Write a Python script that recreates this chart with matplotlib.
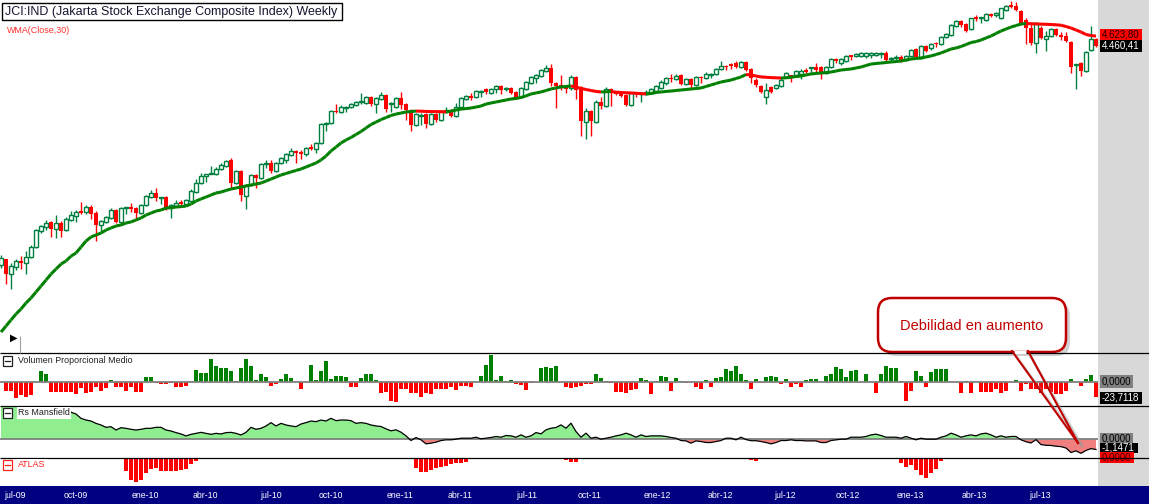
import numpy as np
import matplotlib
matplotlib.use("Agg")
import matplotlib.pyplot as plt
from matplotlib.patches import Rectangle, FancyBboxPatch
from matplotlib.collections import LineCollection
from matplotlib.transforms import blended_transform_factory

plt.rcParams['font.family'] = ['Liberation Sans', 'DejaVu Sans']

# weekly candles, JCI jul-09 .. sep-13
opens = [2014, 2058, 1950, 2000, 2044, 2029, 2073, 2150, 2279, 2312,
         2355, 2295, 2346, 2287, 2372, 2406, 2450, 2441, 2486, 2432,
         2329, 2355, 2389, 2459, 2355, 2477, 2486, 2477, 2432, 2504,
         2578, 2616, 2569, 2578, 2477, 2495, 2532, 2513, 2541, 2625,
         2712, 2783, 2803, 2803, 2854, 2886, 2949, 2712, 2834, 2588,
         2693, 2793, 2762, 2906, 2917, 2834, 2917, 2949, 3003, 3047,
         3036, 3014, 3091, 3069, 3137, 3360, 3372, 3522, 3510, 3561,
         3574, 3600, 3640, 3627, 3707, 3613, 3680, 3734, 3613, 3574,
         3693, 3613, 3535, 3348, 3459, 3484, 3360, 3484, 3409, 3510,
         3535, 3459, 3574, 3680, 3721, 3707, 3775, 3816, 3761, 3816,
         3858, 3816, 3830, 3775, 3707, 3816, 3900, 3971, 4000, 4073,
         4118, 3900, 3872, 3858, 3830, 3986, 3844, 3384, 3522, 3384,
         3640, 3587, 3816, 3775, 3761, 3734, 3600, 3775, 3748, 3748,
         3761, 3788, 3830, 3900, 3971, 3957, 4015, 3886, 3957, 3872,
         3986, 3971, 4015, 4030, 4103, 4148, 4178, 4193, 4133, 4209,
         4103, 3942, 3858, 3707, 3844, 3830, 3858, 3986, 4015, 4015,
         4030, 4088, 4118, 4133, 4133, 4044, 4133, 4255, 4193, 4224,
         4317, 4302, 4302, 4302, 4317, 4317, 4333, 4349, 4255, 4271,
         4286, 4239, 4302, 4412, 4271, 4460, 4428, 4509, 4492, 4608,
         4642, 4795, 4883, 4831, 4744, 4955, 4937, 4901, 5010, 4992,
         4937, 5083, 5176, 5157, 5065, 4901, 4761, 4509, 4761, 4575,
         4625, 4744, 4642, 4625, 4525, 4163, 4193, 4073, 4396, 4575]
highs = [2088, 2058, 2029, 2058, 2080, 2119, 2166, 2295, 2329, 2372,
         2363, 2415, 2363, 2398, 2450, 2459, 2532, 2504, 2504, 2450,
         2372, 2406, 2477, 2468, 2486, 2490, 2523, 2486, 2513, 2597,
         2644, 2663, 2580, 2588, 2513, 2550, 2550, 2560, 2654, 2752,
         2813, 2805, 2886, 2875, 2917, 2949, 2970, 2844, 2844, 2703,
         2803, 2803, 2917, 2949, 2949, 2928, 2981, 3025, 3080, 3058,
         3058, 3091, 3125, 3148, 3372, 3384, 3535, 3613, 3600, 3587,
         3627, 3653, 3761, 3721, 3721, 3707, 3775, 3748, 3640, 3707,
         3775, 3627, 3548, 3497, 3497, 3497, 3497, 3497, 3535, 3574,
         3548, 3627, 3707, 3734, 3761, 3802, 3802, 3830, 3830, 3872,
         3872, 3844, 3844, 3788, 3844, 3928, 4000, 4030, 4103, 4163,
         4178, 3914, 4015, 3872, 4015, 4000, 3858, 3561, 3535, 3666,
         3707, 3844, 3830, 3788, 3761, 3748, 3775, 3775, 3775, 3802,
         3830, 3872, 3942, 3986, 4030, 4030, 4030, 3971, 3971, 4000,
         4000, 4058, 4044, 4118, 4224, 4163, 4193, 4224, 4224, 4224,
         4118, 3971, 3872, 3900, 3858, 3886, 3971, 4058, 4015, 4088,
         4103, 4118, 4140, 4193, 4148, 4148, 4271, 4271, 4271, 4317,
         4317, 4349, 4364, 4364, 4364, 4364, 4364, 4380, 4286, 4317,
         4317, 4317, 4412, 4428, 4476, 4476, 4509, 4525, 4625, 4676,
         4831, 4901, 4901, 4848, 4937, 4992, 4960, 5028, 5028, 5046,
         5125, 5176, 5251, 5233, 5083, 4937, 4848, 4866, 4795, 4710,
         4761, 4761, 4693, 4693, 4542, 4180, 4209, 4380, 4795, 4592]
lows = [1992, 1880, 1846, 1978, 1985, 1950, 2066, 2142, 2262, 2287,
        2230, 2222, 2230, 2279, 2363, 2355, 2424, 2424, 2381, 2197,
        2271, 2346, 2381, 2346, 2346, 2424, 2441, 2372, 2424, 2495,
        2569, 2541, 2513, 2459, 2389, 2486, 2486, 2504, 2532, 2616,
        2703, 2722, 2800, 2793, 2844, 2875, 2664, 2703, 2541, 2468,
        2683, 2664, 2752, 2865, 2813, 2824, 2906, 2917, 2992, 2917,
        2960, 2992, 3058, 3025, 3125, 3276, 3360, 3497, 3497, 3510,
        3561, 3587, 3613, 3613, 3587, 3497, 3666, 3510, 3510, 3561,
        3548, 3409, 3276, 3336, 3348, 3312, 3348, 3384, 3397, 3497,
        3447, 3447, 3548, 3666, 3666, 3693, 3707, 3748, 3748, 3761,
        3748, 3788, 3748, 3680, 3693, 3802, 3886, 3900, 3986, 4058,
        3858, 3561, 3802, 3761, 3802, 3680, 3217, 3183, 3217, 3372,
        3548, 3574, 3587, 3734, 3707, 3587, 3587, 3707, 3640, 3734,
        3748, 3775, 3816, 3872, 3914, 3942, 3872, 3872, 3816, 3858,
        3900, 3957, 3971, 4015, 4088, 4088, 4103, 4118, 4118, 4073,
        3900, 3844, 3761, 3613, 3761, 3816, 3844, 3971, 3914, 4000,
        3957, 4030, 4044, 4058, 3957, 4030, 4118, 4193, 4163, 4209,
        4239, 4286, 4286, 4271, 4271, 4302, 4271, 4209, 4224, 4239,
        4209, 4224, 4286, 4271, 4255, 4364, 4396, 4444, 4476, 4592,
        4625, 4778, 4778, 4693, 4727, 4883, 4848, 4883, 4955, 4955,
        4919, 5065, 5120, 5065, 4831, 4492, 4476, 4349, 4575, 4380,
        4608, 4625, 4558, 4525, 4044, 3816, 4000, 4058, 4380, 4444]
closes = [2066, 1950, 2007, 2044, 2029, 2073, 2150, 2287, 2321, 2346,
          2295, 2346, 2279, 2381, 2415, 2441, 2432, 2486, 2424, 2329,
          2363, 2398, 2459, 2355, 2477, 2486, 2468, 2432, 2504, 2588,
          2616, 2569, 2578, 2477, 2504, 2523, 2513, 2550, 2635, 2712,
          2783, 2803, 2813, 2854, 2896, 2938, 2712, 2834, 2597, 2693,
          2793, 2762, 2906, 2917, 2834, 2917, 2970, 3014, 3047, 3025,
          3014, 3080, 3069, 3137, 3360, 3372, 3522, 3510, 3574, 3574,
          3613, 3640, 3653, 3707, 3613, 3693, 3734, 3548, 3627, 3693,
          3600, 3535, 3348, 3484, 3472, 3360, 3484, 3409, 3522, 3535,
          3459, 3574, 3693, 3721, 3693, 3788, 3788, 3775, 3816, 3858,
          3802, 3830, 3761, 3693, 3830, 3914, 3986, 4015, 4088, 4118,
          3900, 3858, 3830, 3816, 3986, 3802, 3397, 3522, 3397, 3640,
          3587, 3816, 3761, 3748, 3721, 3600, 3761, 3748, 3761, 3775,
          3816, 3858, 3914, 3971, 3957, 4000, 3886, 3957, 3872, 3986,
          3971, 4030, 4030, 4103, 4148, 4133, 4148, 4133, 4209, 4088,
          3971, 3872, 3775, 3802, 3775, 3872, 3942, 4044, 3971, 4073,
          4073, 4058, 4133, 4088, 4030, 4133, 4255, 4224, 4255, 4302,
          4286, 4333, 4349, 4349, 4349, 4349, 4349, 4239, 4271, 4286,
          4239, 4302, 4396, 4286, 4460, 4380, 4492, 4492, 4608, 4659,
          4813, 4883, 4813, 4710, 4937, 4919, 4955, 5010, 4974, 5028,
          5120, 5157, 5139, 5083, 4848, 4761, 4509, 4848, 4592, 4625,
          4744, 4642, 4608, 4542, 4133, 4178, 4073, 4364, 4575, 4460.41]
wma30 = [1579, 1614, 1650, 1686, 1717, 1755, 1787, 1826, 1866, 1907,
         1949, 1985, 2021, 2044, 2080, 2104, 2150, 2197, 2230, 2246,
         2262, 2287, 2304, 2321, 2329, 2346, 2355, 2372, 2389, 2415,
         2432, 2450, 2459, 2477, 2481, 2486, 2490, 2495, 2513, 2541,
         2560, 2578, 2597, 2616, 2625, 2640, 2654, 2664, 2673, 2683,
         2693, 2703, 2712, 2732, 2752, 2772, 2793, 2808, 2824, 2839,
         2854, 2875, 2896, 2917, 2949, 2992, 3047, 3091, 3137, 3171,
         3200, 3235, 3270, 3312, 3354, 3384, 3415, 3440, 3466, 3484,
         3497, 3510, 3516, 3522, 3520, 3517, 3516, 3515, 3514, 3512,
         3522, 3535, 3548, 3554, 3561, 3574, 3587, 3613, 3627, 3640,
         3653, 3666, 3680, 3687, 3700, 3721, 3748, 3761, 3775, 3795,
         3816, 3830, 3844, 3851, 3858, 3844, 3823, 3809, 3795, 3782,
         3775, 3778, 3781, 3772, 3768, 3764, 3761, 3757, 3753, 3748,
         3754, 3768, 3775, 3782, 3788, 3795, 3802, 3809, 3816, 3823,
         3830, 3851, 3872, 3893, 3914, 3928, 3942, 3964, 3986, 4022,
         4015, 4000, 3986, 3982, 3977, 3974, 3971, 3974, 3982, 3993,
         4000, 4015, 4030, 4037, 4044, 4051, 4058, 4073, 4088, 4096,
         4103, 4118, 4133, 4155, 4178, 4186, 4193, 4201, 4209, 4216,
         4224, 4239, 4255, 4263, 4271, 4286, 4302, 4325, 4349, 4380,
         4412, 4428, 4452, 4484, 4517, 4533, 4558, 4592, 4625, 4668,
         4710, 4744, 4778, 4804, 4831, 4840, 4836, 4833, 4829, 4826,
         4822, 4817, 4810, 4787, 4761, 4727, 4693, 4650, 4633, 4623.80]

vol_prop = [0, -13.2, -13.2, -25.3, -20.0, -23.7, -20.0, 0, 17.9, 13.2,
            -15.8, -15.8, -15.8, -15.8, -15.8, -18.4, -9.5, -17.4, -14.8, -6.9,
            -13.2, -9.5, 3.7, -7.9, -6.9, -13.2, -6.9, -15.8, -15.8, 9.0,
            9.0, -1.6, -2.6, -2.6, -1.6, -7.9, -7.9, -5.3, 2.1, 19.5,
            14.2, 14.2, 36.9, 25.8, 22.1, 22.1, 17.9, 2.1, 22.1, 36.9,
            26.4, 3.7, 12.6, 9.0, -5.3, -2.6, 5.3, 12.6, 6.3, 0,
            -10.5, 0, 27.4, 3.7, 17.9, 33.7, 5.3, 10.0, 10.0, 7.9,
            -6.9, -6.9, 6.3, 13.2, 13.2, 3.7, -17.4, -14.8, -29.0, -30.6,
            -10.5, -10.5, -17.4, -16.3, -22.7, -17.4, -19.0, -10.5, -10.5, -10.5,
            -6.9, -12.1, -5.3, -5.3, -6.9, 0, 10.0, 27.4, 43.2, 3.7,
            10.0, 2.1, 3.7, -2.6, -4.2, -12.1, -1.6, 0, 23.2, 24.8,
            23.2, 26.4, 0, -6.9, -8.4, -6.9, -5.3, -2.6, -2.6, 13.2,
            7.4, 2.1, -1.6, -14.8, -14.8, -16.3, -12.1, -11.1, 6.3, 3.7,
            -19.0, 2.1, 10.0, 9.0, -13.2, 7.4, 2.1, -1.6, 0, -6.9,
            -11.1, 3.7, -6.9, 7.4, 9.0, 21.1, 17.9, 26.4, 13.2, 3.7,
            -11.1, 4.7, -1.6, 9.0, 10.0, 9.0, -3.2, 5.3, -6.9, -3.2,
            -6.9, 3.7, 5.3, 5.3, 0, 10.5, 13.2, 24.8, 21.1, 9.0,
            17.9, 19.5, 0, 13.2, 0, -16.3, 13.2, 26.4, 23.2, 23.2,
            2.1, -29.0, -13.2, 17.9, 10.5, -6.9, 15.8, 21.1, 21.1, 21.1,
            0, 0, -16.3, 2.1, -16.3, 0, -14.8, -14.8, -14.8, -11.1,
            -17.4, -13.2, 0, 3.7, -13.2, -3.2, -11.1, -11.1, -17.4, -11.1,
            -14.8, -18.4, -18.4, -13.2, 5.3, 0, -5.3, 4.7, 11.6, -23.7118]

rs_mansfield = [3.9, 3.9, 3.9, 3.9, 3.9, 3.9, 3.9, 3.9, 3.9, 3.9,
                3.9, 3.9, 3.9, 3.9, 3.0, 2.8, 2.32, 2.13, 2.02, 1.76,
                1.58, 1.32, 1.39, 1.02, 1.28, 1.21, 1.10, 1.02, 1.10, 1.21,
                1.21, 1.32, 1.32, 1.02, 0.91, 0.73, 0.58, 0.36, 0.54, 0.65,
                0.76, 0.65, 0.54, 0.65, 0.58, 0.73, 0.76, 0.65, 0.47, 0.76,
                1.32, 1.10, 1.21, 1.47, 1.84, 1.47, 1.76, 1.58, 1.47, 1.39,
                1.69, 1.84, 2.02, 1.95, 2.13, 2.02, 2.32, 2.06, 2.13, 2.13,
                2.06, 1.76, 1.84, 1.76, 1.58, 1.47, 1.41, 1.15, 0.93, 1.04,
                0.78, 0.37, -0.15, 0.19, -0.07, -0.52, -0.44, -0.33, -0.15, -0.07,
                -0.07, 0.0, 0.11, 0.11, 0.11, 0.22, 0.04, 0.11, 0.19, 0.30,
                0.22, 0.41, 0.37, 0.22, 0.48, 0.22, 0.37, 0.74, 0.59, 1.04,
                1.22, 1.30, 1.59, 1.22, 1.78, 0.85, 0.22, 0.67, 0.11, 0.22,
                0.0, 0.11, 0.22, 0.37, 0.48, 0.67, 0.48, 0.22, 0.48, 0.30,
                0.37, 0.37, 0.37, 0.30, 0.19, 0.11, -0.15, -0.19, -0.44, -0.19,
                -0.26, -0.37, -0.37, -0.26, -0.15, 0.11, 0.11, -0.07, 0.22, -0.04,
                -0.17, -0.17, -0.26, -0.37, -0.52, -0.37, -0.15, -0.15, -0.07, -0.15,
                -0.15, -0.19, -0.19, -0.19, -0.37, -0.37, -0.15, -0.07, 0.0, 0.0,
                0.22, 0.22, 0.22, 0.30, 0.48, 0.56, 0.41, 0.22, 0.22, 0.22,
                0.11, 0.30, 0.11, -0.07, 0.11, 0.0, 0.0, 0.0, 0.22, 0.37,
                0.67, 0.48, 0.22, 0.37, 0.48, 0.37, 0.59, 0.67, 0.48, 0.22,
                0.37, 0.22, 0.30, 0.30, -0.07, -0.28, -0.42, -0.05, -0.60, -0.68,
                -0.70, -0.78, -0.83, -0.98, -1.48, -1.30, -1.57, -1.25, -1.05, -1.1471]

atlas_week = [25, 26, 27, 28, 29, 30, 31, 32, 33, 34, 35, 36, 37, 38, 39,
              83, 84, 85, 86, 87, 88, 89, 90, 91, 92, 93, 94,
              112, 113, 114, 115, 140, 150, 151,
              179, 180, 181, 182, 183, 184, 185, 186, 187, 188]
atlas_val = [-13.2, -22.5, -24.8, -22.5, -15.8, -11.8, -10.8, -13.2, -13.5, -13.5, -13.2, -12.5, -11.8, -6.5, -3.2,
             -10.2, -14.2, -14.2, -12.5, -10.8, -9.2, -8.2, -6.8, -5.8, -5.8, -4.2, -1.5,
             -0.8, -2.5, -4.2, -4.2, -0.8, -2.5, -3.2,
             -1.8, -5.8, -9.8, -7.5, -12.5, -17.5, -20.8, -15.2, -11.8, -3.2]

date_labels = ['jul-09', 'oct-09', 'ene-10', 'abr-10', 'jul-10', 'oct-10', 'ene-11', 'abr-11', 'jul-11',
               'oct-11', 'ene-12', 'abr-12', 'jul-12', 'oct-12', 'ene-13', 'abr-13', 'jul-13']
date_week = [2.8, 14.9, 28.8, 40.8, 53.9, 66.0, 79.8, 91.8, 105.2,
             117.8, 131.2, 143.8, 156.8, 169.4, 181.8, 194.7, 207.7]

GREEN = '#008040'
LGREEN = '#008000'
RED = '#ff0000'

W, H = 1149, 504
fig = plt.figure(figsize=(W / 100, H / 100), dpi=100)
fig.patch.set_facecolor('white')


def rect(x0, y0, x1, y1):
    return [x0 / W, 1 - y1 / H, (x1 - x0) / W, (y1 - y0) / H]


XL = (-0.2, 219.4)
o = np.array(opens, float)
hi = np.array(highs, float)
lo = np.array(lows, float)
c = np.array(closes, float)
x = np.arange(len(c))
up = c >= o

# price panel
ax = fig.add_axes(rect(0, 0, 1098, 353))
ax.set_yscale('log')
ax.set_xlim(*XL)
ax.set_ylim(1463.5, 5271)
ax.axis('off')
ax.vlines(x[up], lo[up], hi[up], color=GREEN, lw=1, zorder=2)
ax.vlines(x[~up], lo[~up], hi[~up], color=RED, lw=1, zorder=2)
ax.bar(x[up], c[up] - o[up], bottom=o[up], width=0.62, facecolor='white',
       edgecolor=GREEN, lw=1, zorder=3)
ax.bar(x[~up], o[~up] - c[~up], bottom=c[~up], width=0.75, color=RED, lw=0, zorder=3)

w = np.array(wma30, float)
segs = [[(i, w[i]), (i + 1, w[i + 1])] for i in range(len(w) - 1)]
cols = [LGREEN if w[i + 1] >= w[i] else RED for i in range(len(w) - 1)]
ax.add_collection(LineCollection(segs, colors=cols, linewidths=2.2, zorder=4,
                                 capstyle='butt'))

# volumen proporcional medio
av = fig.add_axes(rect(0, 354, 1098, 405))
av.set_xlim(*XL)
av.set_ylim(-35.9, 44.7)
av.axis('off')
v = np.array(vol_prop)
av.bar(x, v, width=0.75, color=np.where(v >= 0, LGREEN, RED), lw=0)
av.axhline(0, color='#808080', lw=1.3)

# rs mansfield
ar = fig.add_axes(rect(0, 406, 1098, 457))
ar.set_xlim(*XL)
ar.set_ylim(-1.98, 3.69)
ar.axis('off')
rs = np.array(rs_mansfield)
ar.fill_between(x, 0, rs, where=rs >= 0, interpolate=True, color='#90ee90', lw=0)
ar.fill_between(x, 0, rs, where=rs < 0, interpolate=True, color='#f08080', lw=0)
ar.axhline(0, color='#808080', lw=1.3)
ar.plot(x, rs, color='black', lw=0.9)

# atlas
aa = fig.add_axes(rect(0, 457.5, 1098, 486))
aa.set_xlim(*XL)
aa.set_ylim(-28.5, 0)
aa.axis('off')
aa.bar(atlas_week, atlas_val, width=0.75, color=RED, lw=0)

# overlay in pixel units
ov = fig.add_axes([0, 0, 1, 1])
ov.set_xlim(0, W)
ov.set_ylim(H, 0)
ov.axis('off')
ov.set_zorder(10)
ov.patch.set_alpha(0)

ov.add_patch(Rectangle((1098, 0), W - 1098, 486, fc='#d8d8d8', lw=0))
ov.hlines([353, 405.5, 457.5], 0, W, color='black', lw=0.9)
ov.add_patch(Rectangle((0, 486), W, H - 486, fc='#000080', lw=0))
tr = blended_transform_factory(aa.transData, ov.transData)
for lab, wk in zip(date_labels, date_week):
    ov.text(wk, 495.5, lab, transform=tr, color='white', fontsize=6.3,
            ha='center', va='center')

# title
ov.add_patch(Rectangle((1.5, 2.5), 340.5, 17.5, fc='white', ec='black', lw=1))
ov.text(5, 11.5, 'JCI:IND (Jakarta Stock Exchange Composite Index) Weekly',
        fontsize=9, color='#151530', va='center', ha='left')
ov.text(7, 30.5, 'WMA(Close,30)', fontsize=6.4, color='#ff3030', va='center')
ov.text(13.5, 338, '\u25b6', fontsize=7, family='DejaVu Sans', ha='center', va='center')
ov.vlines(20, 336, 353, color='#a0a0a0', lw=0.8)


def panel_label(y, text, col):
    ov.add_patch(Rectangle((2.7, y - 5), 9.6, 10, fc='white', ec=col, lw=0.9))
    ov.plot([5, 10], [y, y], color=col, lw=0.9)
    ov.text(18, y, text, fontsize=6.4, color=col, va='center', ha='left',
            bbox=dict(fc='white', ec='none', pad=1.0))


panel_label(360.7, 'Volumen Proporcional Medio', '#202020')
panel_label(412.7, 'Rs Mansfield', '#202020')
panel_label(464.5, 'ATLAS', '#ff2020')


def value_tag(x0, y0, x1, y1, text, fc, tc):
    ov.add_patch(Rectangle((x0, y0), x1 - x0, y1 - y0, fc=fc, lw=0))
    ov.text(x0 + 2, (y0 + y1) / 2, text, fontsize=7, color=tc, va='center', ha='left')


value_tag(1100, 29, 1142, 39.5, '4.623,80', '#ff0000', '#200000')
value_tag(1100, 39.5, 1142, 52, '4.460,41', 'black', 'white')
value_tag(1100, 375, 1133, 388, '0,0000', '#808080', 'black')
value_tag(1100, 391.5, 1142, 403.5, '-23,7118', 'black', 'white')
value_tag(1100, 432.5, 1133, 445, '0,0000', '#808080', 'black')
value_tag(1100, 443, 1138, 452.5, '-1,1471', 'black', 'white')
value_tag(1100, 451.5, 1134, 463, '0,0000', '#ff0000', '#400000')

# callout
ov.add_patch(FancyBboxPatch((882, 302), 188, 54, boxstyle='round,pad=0,rounding_size=14',
                            fc='#9a9a9a', ec='none', alpha=0.45))
ov.plot([1016, 1082], [356, 446], color='#9a9a9a', lw=2, alpha=0.45)
ov.plot([1031, 1082], [357, 446], color='#9a9a9a', lw=2, alpha=0.45)
ov.add_patch(FancyBboxPatch((878, 298), 188, 54, boxstyle='round,pad=0,rounding_size=14',
                            fc='white', ec='#c00000', lw=1.8))
ov.plot([1014, 1026], [352, 352], color='white', lw=2.5, solid_capstyle='butt')
ov.plot([1012, 1078], [351, 443], color='#c00000', lw=1.5)
ov.plot([1028, 1078], [351, 443], color='#c00000', lw=1.5)
ov.text(972, 325.5, 'Debilidad en aumento', fontsize=10.5, color='#c00000',
        ha='center', va='center')

fig.savefig('out.png', dpi=100, facecolor='white')
